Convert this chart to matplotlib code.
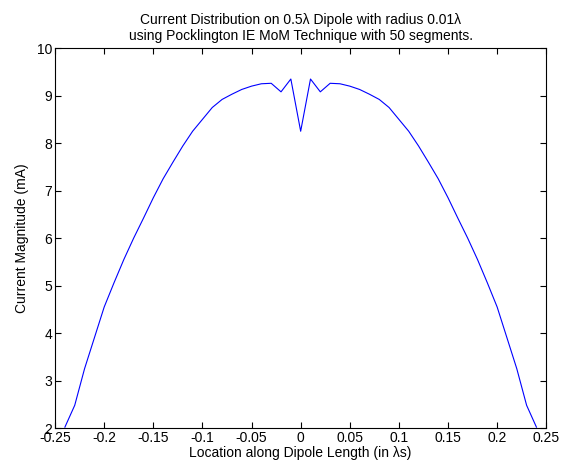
import numpy as np
import matplotlib
matplotlib.use("Agg")
import matplotlib.pyplot as plt

plt.rcParams['font.family'] = ['Liberation Sans', 'DejaVu Sans']

# segment centres (lambda) and current magnitude (mA)
half_x = [0.00, 0.01, 0.02, 0.03, 0.04, 0.05, 0.06, 0.07, 0.08, 0.09, 0.10, 0.11,
          0.12, 0.13, 0.14, 0.15, 0.16, 0.17, 0.18, 0.19, 0.20, 0.21, 0.22, 0.23, 0.24]
half_i = [8.25, 9.35, 9.08, 9.26, 9.25, 9.20, 9.13, 9.03, 8.92, 8.75, 8.50, 8.25,
          7.94, 7.60, 7.25, 6.85, 6.42, 6.00, 5.55, 5.06, 4.55, 3.90, 3.25, 2.48, 2.02]

z = [-v for v in half_x[:0:-1]] + half_x
cur = half_i[:0:-1] + half_i

fig = plt.figure(figsize=(5.62, 4.72), dpi=100)
ax = fig.add_axes([0.098, 0.093, 0.874, 0.805])
ax.plot(z, cur, color='blue', linewidth=0.8)

ax.set_xlim(-0.25, 0.25)
ax.set_ylim(2, 10)
ax.set_xticks(np.arange(-0.25, 0.2501, 0.05))
ax.set_xticklabels(['-0.25', '-0.2', '-0.15', '-0.1', '-0.05', '0',
                    '0.05', '0.1', '0.15', '0.2', '0.25'])
ax.set_yticks(range(2, 11))
ax.tick_params(direction='in', top=True, right=True, length=4, labelsize=10, pad=2)

ax.set_xlabel('Location along Dipole Length (in λs)', fontsize=10, labelpad=1)
ax.set_ylabel('Current Magnitude (mA)', fontsize=10, labelpad=6)
ax.set_title('Current Distribution on 0.5λ Dipole with radius 0.01λ\n'
             'using Pocklington IE MoM Technique with 50 segments.', fontsize=10, pad=6)

fig.savefig('out.png', dpi=100)
